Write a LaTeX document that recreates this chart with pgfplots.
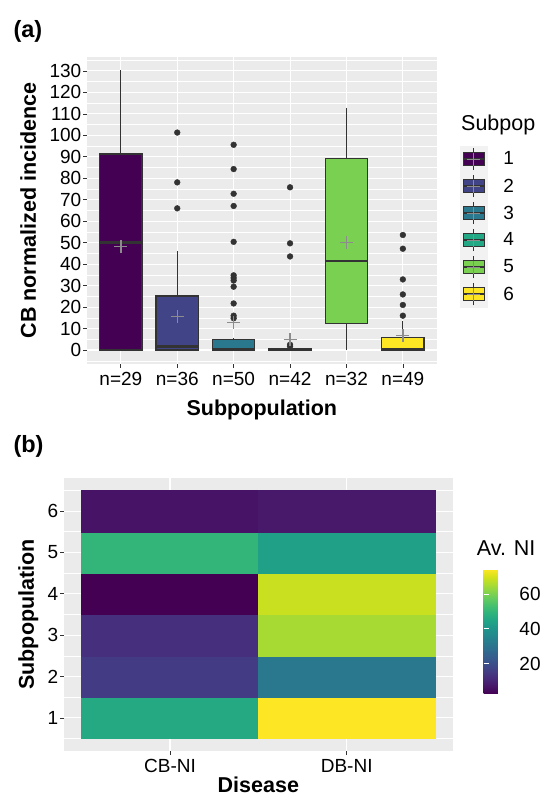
\documentclass[border=0pt]{standalone}
\usepackage{fontspec}
\setmainfont{Liberation Sans}
\usepackage{pgfplots}
\pgfplotsset{compat=1.18}
\usepgfplotslibrary{statistics}
\definecolor{v1}{HTML}{440154}
\definecolor{v2}{HTML}{414487}
\definecolor{v3}{HTML}{2A788E}
\definecolor{v4}{HTML}{22A884}
\definecolor{v5}{HTML}{7AD151}
\definecolor{v6}{HTML}{FDE725}
\definecolor{bg}{HTML}{EBEBEB}
\definecolor{dk}{HTML}{333333}
\definecolor{mn}{HTML}{8C8C8C}
\definecolor{keybg}{HTML}{F2F2F2}
\newcommand\tickfont{\fontsize{19}{19}\selectfont}
\newcommand\titlefont{\fontsize{21.5}{21.5}\selectfont\bfseries}
\newcommand\legtitlefont{\fontsize{21.5}{21.5}\selectfont}
\pgfplotsset{
  /pgf/number format/assume math mode=true,
  every tick label/.append style={font=\tickfont, text=black},
  ggbase/.style={
    scale only axis,
    axis background/.style={fill=bg},
    grid=both,
    major grid style={white, line width=1.1pt},
    minor grid style={white, line width=0.55pt},
    axis line style={draw=none},
    tick align=outside, tick pos=left,
    major tick length=4pt, minor tick length=0pt,
    tick style={dk, line width=0.7pt},
    xticklabel style={inner sep=1.5pt, yshift=-2.5pt},
    yticklabel style={inner sep=1.5pt},
  },
  boxkey/.style={legend image code/.code={
    \fill[keybg] (0pt,-13.3pt) rectangle (27pt,13.3pt);
    \draw[dk, line width=0.8pt] (13.5pt,-11pt) -- (13.5pt,11pt);
    \filldraw[fill=#1, draw=dk, line width=1.2pt] (3pt,-6.5pt) rectangle (24pt,6.5pt);
    \draw[dk, line width=2pt] (3pt,0pt) -- (24pt,0pt);
    \draw[mn, line width=1.3pt] (7pt,0pt) -- (20pt,0pt) (13.5pt,-6.5pt) -- (13.5pt,6.5pt);
  }},
}
\begin{document}
\begin{tikzpicture}
\useasboundingbox (0,0) rectangle (540pt,796pt);
% ---------------- panel (a) ----------------
\begin{axis}[ggbase,
  at={(87pt,432pt)}, anchor=south west, width=349.7pt, height=307pt,
  xmin=0.4, xmax=6.6, ymin=-6.5, ymax=136.5,
  xtick={1,2,3,4,5,6}, xticklabels={n=29,n=36,n=50,n=42,n=32,n=49},
  ytick={0,10,...,130}, minor ytick={-5,5,...,135},
  minor xtick={},
  xlabel={Subpopulation}, ylabel={CB normalized incidence},
  xlabel style={at={(axis description cs:0.5,-0.1498)}, anchor=center, font=\titlefont},
  ylabel style={at={(axis description cs:-0.1679,0.5)}, anchor=center, font=\titlefont},
  boxplot/draw direction=y,
  boxplot/box extend=0.75, boxplot/whisker extend=0,
  boxplot/every box/.style={line width=1.3pt},
  boxplot/every whisker/.style={line width=0.9pt},
  boxplot/every median/.style={line width=2.8pt},
  legend cell align=left,
  legend style={at={(1,1)}, anchor=north west, xshift=23.3pt, yshift=-88.7pt,
    draw=none, fill=none, inner sep=0pt, outer sep=0pt, row sep=0pt, column sep=16pt,
    nodes={inner sep=0pt, anchor=west, font=\tickfont}},
]
\addplot+[boxplot prepared={draw position=1, lower whisker=0, lower quartile=0, median=50, upper quartile=91.3, upper whisker=130.3}, fill=v1, draw=dk, mark=none, forget plot] coordinates {};
\addplot+[boxplot prepared={draw position=2, lower whisker=0, lower quartile=0, median=1.5, upper quartile=25.2, upper whisker=46.1}, fill=v2, draw=dk, mark=none, forget plot] coordinates {};
\addplot+[boxplot prepared={draw position=3, lower whisker=0, lower quartile=0, median=0.4, upper quartile=4.8, upper whisker=5.5}, fill=v3, draw=dk, mark=none, forget plot] coordinates {};
\addplot+[boxplot prepared={draw position=4, lower whisker=0, lower quartile=0, median=0, upper quartile=0.5, upper whisker=1.0}, fill=v4, draw=dk, mark=none, forget plot] coordinates {};
\addplot+[boxplot prepared={draw position=5, lower whisker=0, lower quartile=12.4, median=41.5, upper quartile=89.3, upper whisker=112.9}, fill=v5, draw=dk, mark=none, forget plot] coordinates {};
\addplot+[boxplot prepared={draw position=6, lower whisker=0, lower quartile=0, median=0.5, upper quartile=5.9, upper whisker=13.7}, fill=v6, draw=dk, mark=none, forget plot] coordinates {};
% outliers
\addplot[only marks, mark=*, mark size=2.9pt, dk, forget plot] coordinates {
 (2,101.3) (2,78.1) (2,66.0)
 (3,95.6) (3,84.3) (3,72.8) (3,67.1) (3,50.4) (3,34.8) (3,33.6) (3,32.4) (3,29.5) (3,21.7) (3,16.0) (3,14.8)
 (4,75.8) (4,49.7) (4,43.6) (4,2.5) (4,1.6)
 (6,53.6) (6,47.2) (6,32.9) (6,25.9) (6,21.0) (6,16.0)
};
% means
\addplot[only marks, mark=+, mark size=6.5pt, mn, mark options={line width=1.4pt}, forget plot] coordinates {
 (1,48.1) (2,15.5) (3,12.7) (4,5.0) (5,50.2) (6,6.8)
};
\addlegendimage{boxkey=v1}\addlegendentry{1}
\addlegendimage{boxkey=v2}\addlegendentry{2}
\addlegendimage{boxkey=v3}\addlegendentry{3}
\addlegendimage{boxkey=v4}\addlegendentry{4}
\addlegendimage{boxkey=v5}\addlegendentry{5}
\addlegendimage{boxkey=v6}\addlegendentry{6}
\end{axis}
\node[anchor=west, font=\legtitlefont, inner sep=0pt] at (461pt,671pt) {Subpop};
\node[anchor=west, font=\fontsize{23.5}{23.5}\selectfont\bfseries, inner sep=0pt] at (13.3pt,765pt) {(a)};
% ---------------- panel (b) ----------------
\begin{axis}[ggbase,
  at={(64pt,45pt)}, anchor=south west, width=388.7pt, height=273pt,
  xmin=0.4, xmax=2.6, ymin=0.2, ymax=6.8,
  xtick={1,2}, xticklabels={CB-NI,DB-NI},
  ytick={1,2,3,4,5,6}, minor ytick={0.5,1.5,...,6.5}, minor xtick={},
  xlabel={Disease}, ylabel={Subpopulation},
  xlabel style={at={(axis description cs:0.5,-0.1245)}, anchor=center, font=\titlefont},
  ylabel style={at={(axis description cs:-0.0918,0.5)}, anchor=center, font=\titlefont},
  colormap name=viridis,
  point meta min=3.0, point meta max=74.35,
  colorbar,
  colorbar style={
    at={(parent axis.south east)}, anchor=south west, xshift=22.3pt, yshift=57.7pt,
    scale only axis, width=26.7pt, height=124.3pt,
    axis background/.style={fill=none}, grid=none,
    axis line style={draw=none},
    ytick={20,40,60}, 
    ytick pos=both, yticklabel pos=right, ytick align=inside,
    major tick length=5pt, tick style={white, line width=0.8pt},
    yticklabel style={font=\tickfont, inner sep=0pt, xshift=9pt},
  },
]
\addplot[matrix plot*, mesh/cols=2, point meta=explicit] table[meta=c] {
x y c
1 1 46
2 1 74.35
1 2 15.5
2 2 31.5
1 3 12.5
2 3 65
1 4 3.0
2 4 68.6
1 5 50
2 5 43.7
1 6 6.5
2 6 7.6
};
\end{axis}
\node[anchor=west, font=\legtitlefont, inner sep=0pt] at (476.7pt,247.7pt) {Av. NI};
\node[anchor=west, font=\fontsize{23.5}{23.5}\selectfont\bfseries, inner sep=0pt] at (13.3pt,349.3pt) {(b)};
\end{tikzpicture}
\end{document}
